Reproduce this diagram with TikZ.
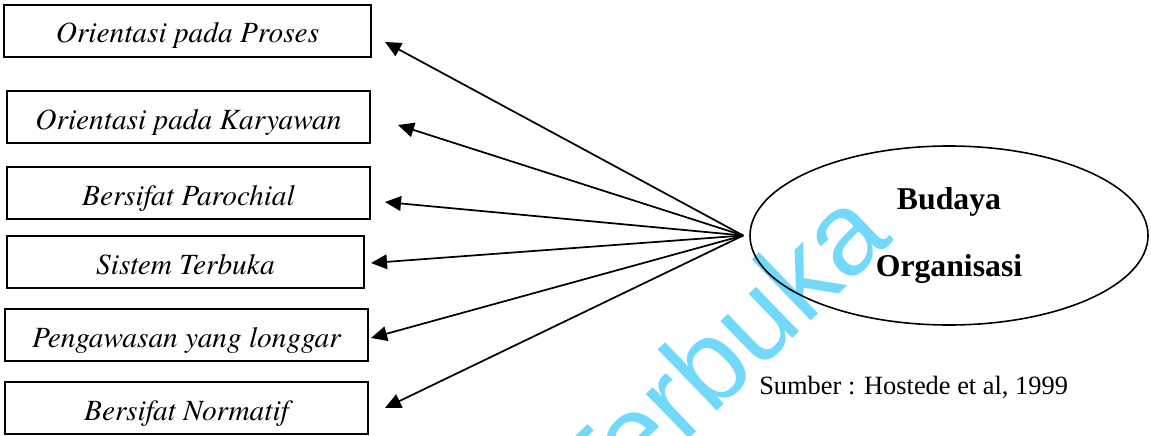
\documentclass[tikz,border=0pt]{standalone}
\usepackage{fontspec}
\newfontfamily\tnr{Liberation Serif}
\newfontfamily\termes{TeX Gyre Termes}
\newfontfamily\wmfont{Liberation Sans}
\usetikzlibrary{arrows.meta,shapes.geometric}
\definecolor{wmcyan}{RGB}{115,217,250}
\tikzset{
  itembox/.style={draw, line width=1.3pt, rectangle, inner xsep=0pt, inner ysep=0pt,
    text height=28.5pt, text depth=10.5pt, font=\termes\fontsize{22}{26}\selectfont\itshape},
  conn/.style={line width=1.3pt, -{Triangle[length=12pt,width=11pt]}},
}
\begin{document}
\begin{tikzpicture}[x=0.75pt,y=-0.75pt]
\useasboundingbox (0,0) rectangle (1151,435);
\clip (0,0) rectangle (1151,435);
% watermark
\node[wmcyan, font=\wmfont\fontsize{88}{90}\selectfont, rotate=44, anchor=base east, inner sep=0pt]
  (wm) at (895,240) {Terbuka};
% boxes
\node[itembox, minimum width=367*0.75pt] (b1) at (187.5,31) {Orientasi pada Proses};
\node[itembox, minimum width=363*0.75pt] (b2) at (188.5,117) {Orientasi pada Karyawan};
\node[itembox, minimum width=363*0.75pt] (b3) at (188.5,193) {Bersifat Parochial};
\node[itembox, minimum width=357*0.75pt] (b4) at (185.5,262) {Sistem Terbuka};
\node[itembox, minimum width=363*0.75pt] (b5) at (186.5,335) {Pengawasan yang longgar};
\node[itembox, minimum width=363*0.75pt] (b6) at (186.5,408) {Bersifat Normatif};
% ellipse
\node[draw, ellipse, line width=1.2pt, inner sep=0pt, minimum width=398*0.75pt, minimum height=179*0.75pt,
  align=center, font=\tnr\fontsize{23.8}{50.25}\selectfont\bfseries] (E) at (949,235.5) {Budaya\\Organisasi};
% source
\node[anchor=base west, inner sep=0pt, font=\tnr\fontsize{19.8}{22}\selectfont] (src) at (759,394) {Sumber : Hostede et al, 1999};
% arrow ends
\coordinate (o) at ([xshift=-4.5pt]E.west);
\coordinate (t1) at (385,42);
\coordinate (t2) at (398,125);
\coordinate (t3) at (385,202);
\coordinate (t4) at (371,263);
\coordinate (t5) at (371,338);
\coordinate (t6) at (385,408);
\foreach \t in {t1,t2,t3,t4,t5,t6} \draw[conn] (o) -- (\t);
\end{tikzpicture}
\end{document}
